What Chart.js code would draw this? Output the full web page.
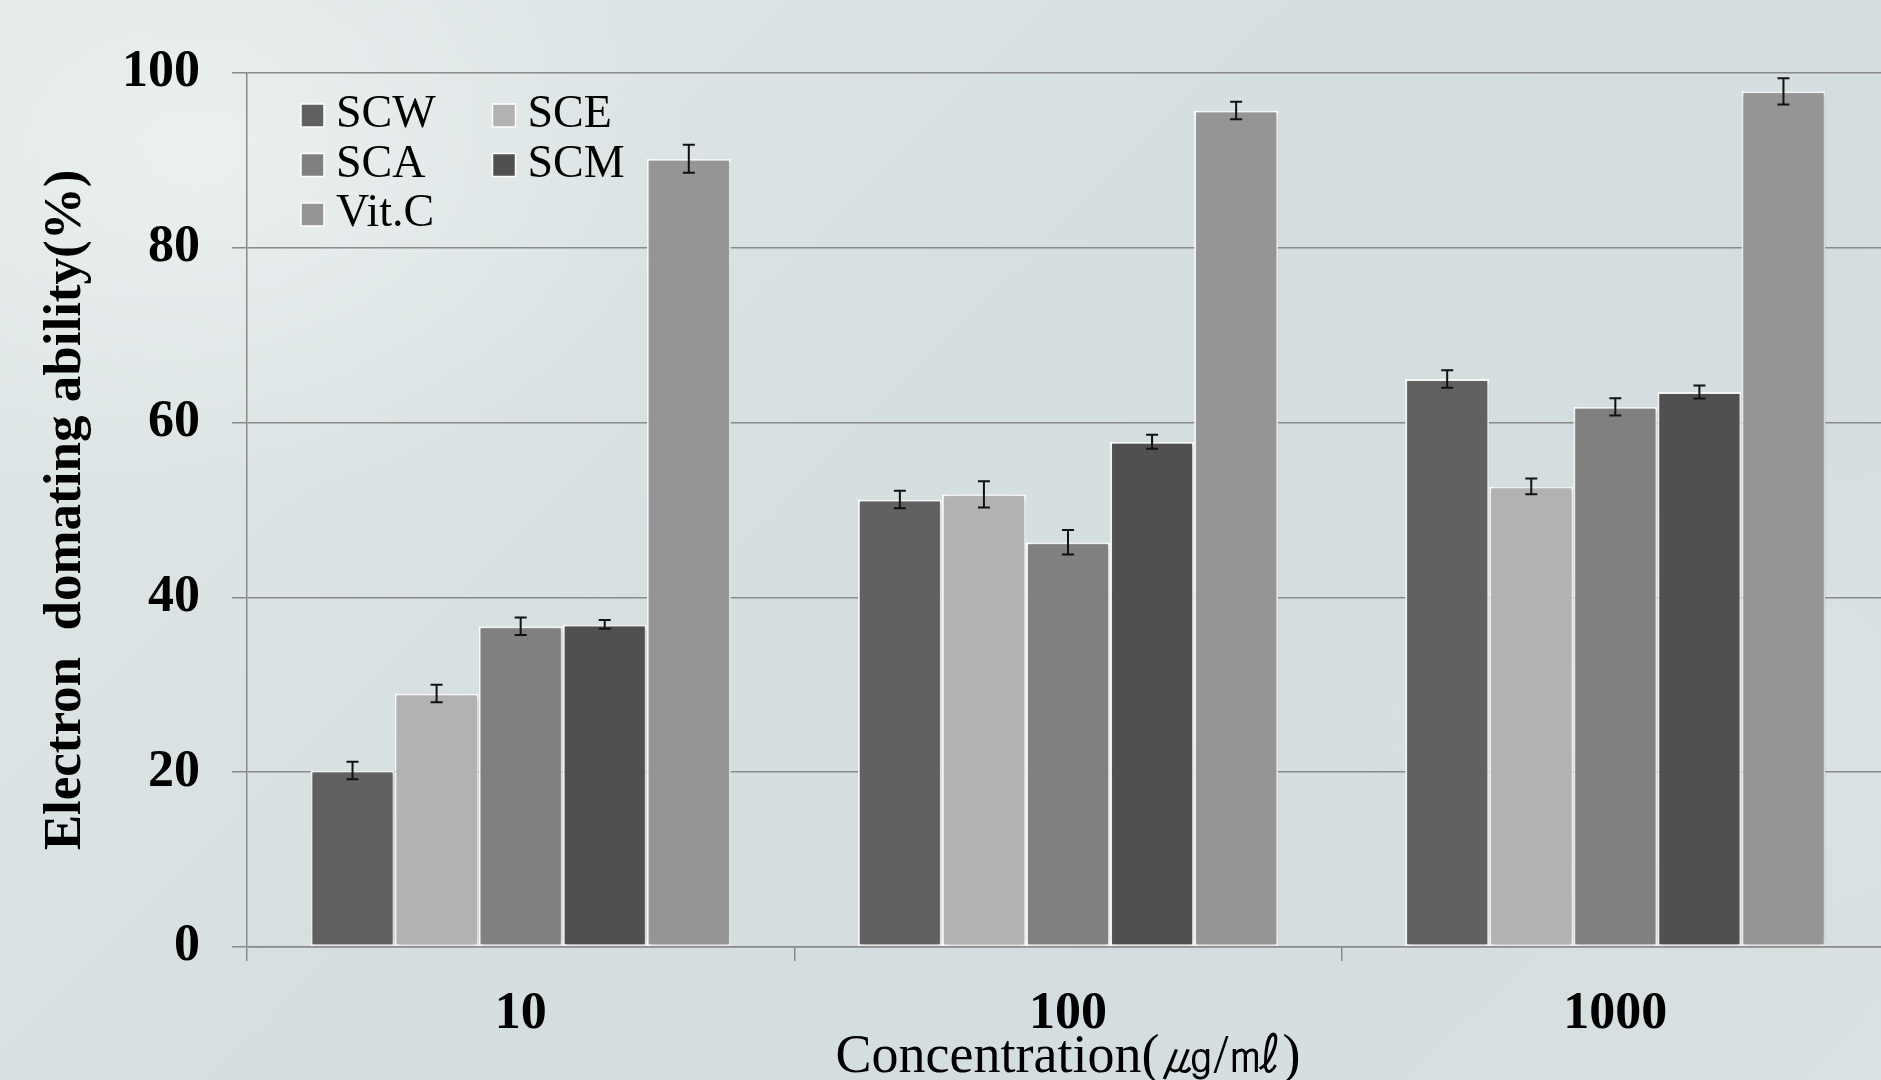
<!DOCTYPE html>
<html>
<head>
<meta charset="utf-8">
<script src="https://cdn.jsdelivr.net/npm/chart.js@4.4.0/dist/chart.umd.min.js"></script>
<style>
  html, body { margin: 0; padding: 0; overflow: hidden; }
  body {
    width: 1881px; height: 1080px;
    background:
      radial-gradient(ellipse 700px 500px at 200px 150px, rgba(236,241,241,0.9), rgba(236,241,241,0) 70%),
      radial-gradient(ellipse 600px 400px at 1700px 700px, rgba(220,228,229,0.8), rgba(220,228,229,0) 70%),
      linear-gradient(135deg, #e2e8e8 0%, #d6dfe0 45%, #d4dddf 70%, #d9e1e2 100%);
  }
  #wrap { width: 1889px; height: 1080px; position: relative; }
</style>
</head>
<body>
<div id="wrap"><canvas id="c"></canvas></div>
<script>
  // datos
  const categories = ['10', '100', '1000'];
  const seriesNames = ['SCW', 'SCE', 'SCA', 'SCM', 'Vit.C'];
  const seriesColors = ['#616161', '#b2b2b2', '#808080', '#505050', '#959595'];

  const scw = [20.2, 51.2, 65.0];
  const sce = [29.0, 51.8, 52.7];
  const sca = [36.7, 46.3, 61.8];
  const scm = [36.9, 57.8, 63.5];
  const vitc = [90.2, 95.7, 97.9];

  const scwErr = [1.0, 1.0, 1.0];
  const sceErr = [1.0, 1.5, 0.9];
  const scaErr = [1.0, 1.4, 1.0];
  const scmErr = [0.5, 0.8, 0.75];
  const vitcErr = [1.6, 1.0, 1.5];

  const yTicks = [0, 20, 40, 60, 80, 100];

  const values = [scw, sce, sca, scm, vitc];
  const errors = [scwErr, sceErr, scaErr, scmErr, vitcErr];

  const serif = '"Liberation Serif", "Times New Roman", serif';

  // sombra suave de las barras
  const barShadow = {
    id: 'barShadow',
    beforeDatasetsDraw(chart) {
      const ctx = chart.ctx;
      ctx.save();
      ctx.shadowColor = 'rgba(0,0,0,0.28)';
      ctx.shadowBlur = 5;
      ctx.shadowOffsetX = 1;
      ctx.shadowOffsetY = 1;
    },
    afterDatasetsDraw(chart) {
      chart.ctx.restore();
    }
  };

  // barras de error
  const errorBars = {
    id: 'errorBars',
    afterDatasetsDraw(chart) {
      const ctx = chart.ctx;
      const y = chart.scales.y;
      ctx.save();
      ctx.strokeStyle = '#111';
      ctx.lineWidth = 2;
      chart.data.datasets.forEach((ds, i) => {
        const meta = chart.getDatasetMeta(i);
        meta.data.forEach((bar, j) => {
          const v = ds.data[j];
          const e = ds.errors[j];
          const yTop = y.getPixelForValue(v + e);
          const yBot = y.getPixelForValue(v - e);
          const x = bar.x;
          ctx.beginPath();
          ctx.moveTo(x, yTop); ctx.lineTo(x, yBot);
          ctx.moveTo(x - 6, yTop); ctx.lineTo(x + 6, yTop);
          ctx.moveTo(x - 6, yBot); ctx.lineTo(x + 6, yBot);
          ctx.stroke();
        });
      });
      ctx.restore();
    }
  };

  // leyenda en dos columnas dentro del area
  const gridLegend = {
    id: 'gridLegend',
    afterDraw(chart) {
      const ctx = chart.ctx;
      const area = chart.chartArea;
      const x0 = area.left + 54;
      const y0 = area.top + 31;
      ctx.save();
      ctx.font = '46px ' + serif;
      ctx.textBaseline = 'alphabetic';
      ctx.textAlign = 'left';
      chart.data.datasets.forEach((ds, i) => {
        const col = i % 2;
        const row = Math.floor(i / 2);
        const bx = x0 + col * 191.5;
        const by = y0 + row * 49.5;
        ctx.fillStyle = ds.backgroundColor;
        ctx.fillRect(bx, by, 23, 23);
        ctx.strokeStyle = '#ffffff';
        ctx.lineWidth = 1.5;
        ctx.strokeRect(bx, by, 23, 23);
        ctx.fillStyle = '#000';
        ctx.fillText(ds.label, bx + 35, by + 23);
      });
      ctx.restore();
    }
  };

  const datasets = seriesNames.map((name, i) => ({
    label: name,
    data: values[i],
    errors: errors[i],
    backgroundColor: seriesColors[i],
    borderColor: '#ffffff',
    borderWidth: 2,
    borderSkipped: false,
    barPercentage: 1.0,
    categoryPercentage: 0.768
  }));

  const chart = new Chart(document.getElementById('c').getContext('2d'), {
    type: 'bar',
    data: { labels: categories, datasets: datasets },
    options: {
      responsive: true,
      maintainAspectRatio: false,
      animation: false,
      layout: { padding: { top: 73, left: 0, right: 0, bottom: 0 } },
      plugins: {
        legend: { display: false },
        tooltip: { enabled: false }
      },
      scales: {
        x: {
          afterFit(scale) { scale.height = 133; },
          grid: {
            offset: true,
            drawOnChartArea: false,
            color: '#8a8a8a',
            lineWidth: 1.5,
            tickLength: 14
          },
          border: { color: '#8a8a8a', width: 1.5 },
          ticks: {
            color: '#000',
            padding: 22,
            font: { family: serif, size: 52, weight: 'bold' }
          },
          title: {
            display: true,
            text: 'Concentration(㎍/㎖)',
            color: '#000',
            padding: { top: 0, bottom: -10 },
            font: { family: serif, size: 54 }
          }
        },
        y: {
          min: 0,
          max: 100,
          afterFit(scale) { scale.width = 247; },
          afterBuildTicks(scale) { scale.ticks = yTicks.map(v => ({ value: v })); },
          grid: {
            color: '#8a8a8a',
            lineWidth: 1.5,
            tickLength: 15
          },
          border: { color: '#8a8a8a', width: 1.5 },
          ticks: {
            color: '#000',
            padding: 32,
            font: { family: serif, size: 52, weight: 'bold' }
          },
          title: {
            display: true,
            text: 'Electron  domating ability(%)',
            color: '#000',
            padding: { top: 35, bottom: 0 },
            font: { family: serif, size: 53, weight: 'bold' }
          }
        }
      }
    },
    plugins: [barShadow, errorBars, gridLegend]
  });
</script>
</body>
</html>
